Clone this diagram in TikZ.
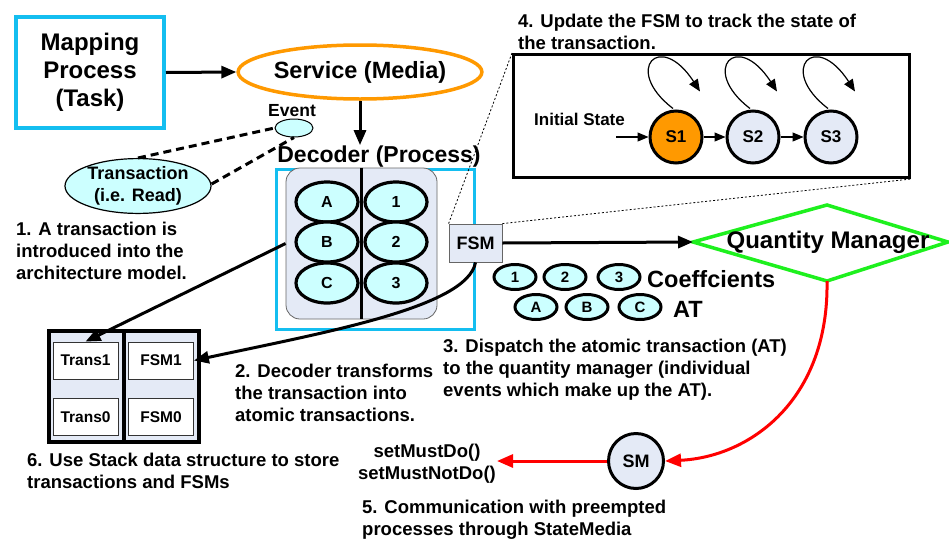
\documentclass[tikz,border=0pt]{standalone}
\usepackage{fontspec}
\setmainfont{Liberation Sans}
\usetikzlibrary{shapes.geometric,arrows.meta,calc}
\definecolor{cyanb}{RGB}{20,190,240}
\definecolor{orng}{RGB}{255,153,0}
\definecolor{lcyan}{RGB}{204,255,255}
\definecolor{lav}{RGB}{228,234,246}
\definecolor{grn}{RGB}{30,240,30}
\newcommand\fsz[2]{\fontsize{#1}{#2}\selectfont}
\newcommand\stloop[1]{\draw[loopst] ($(#1.north)+(-3,-1)$) .. controls ($(#1.north)+(-54,-40)$) and ($(#1.north)+(-16,-80)$) .. ($(#1.north)+(24,-18)$);}
\begin{document}
\begin{tikzpicture}[x=1pt,y=-1pt,
  every node/.style={font=\bfseries, inner sep=0pt},
  para/.style={font=\bfseries\fsz{18.5}{22}, align=left, anchor=north west},
  bigarrow/.style={line width=3pt, -{Triangle[length=15pt,width=12pt]}},
  celli/.style={ellipse, draw, line width=3.2pt, fill=lcyan, minimum width=62pt, minimum height=40pt, font=\bfseries\fsz{16}{16}},
  coef/.style={ellipse, draw, line width=3pt, fill=lcyan, minimum width=42pt, minimum height=25pt, font=\bfseries\fsz{15}{15}},
  state/.style={circle, draw, line width=3pt, minimum size=52pt, font=\bfseries\fsz{17}{17}},
  thinarrow/.style={line width=1.2pt, -{Triangle[length=11pt,width=9pt]}},
  loopst/.style={line width=1.2pt, -{Triangle[length=12pt,width=10pt]}},
  stackbox/.style={draw=black!80, line width=0.8pt, fill=white, minimum width=65pt, minimum height=37pt, font=\bfseries\fsz{15.5}{15.5}},
  dotl/.style={line width=0.8pt, dash pattern=on 2pt off 2pt},
  dashl/.style={line width=3pt, dash pattern=on 8pt off 5pt},
  redarrow/.style={red, line width=3pt, -{Triangle[length=16pt,width=13pt]}},
]
\useasboundingbox (0,0) rectangle (949,541);
\fill[white] (0,0) rectangle (949,541);

% Mapping process and service
\node[draw=cyanb, line width=4pt, minimum width=148pt, minimum height=111pt, align=center, font=\bfseries\fsz{24}{28}] (map) at (90,72.5) {Mapping\\Process\\(Task)};
\node[ellipse, draw=orng, line width=3.5pt, minimum width=234pt, minimum height=54pt, font=\bfseries\fsz{23.5}{23.5}] (svc) at (360,72) {Service (Media)};
\draw[bigarrow] (map.east) -- (svc.west);

% Event and transaction
\node[font=\bfseries\fsz{17.5}{17.5}] (evtl) at (292,110.5) {Event};
\node[ellipse, draw, line width=1pt, fill=lcyan, minimum width=38pt, minimum height=18pt] (evt) at (294,128) {};
\node[ellipse, draw, line width=1.2pt, fill=lcyan, minimum width=146pt, minimum height=54pt, align=center, font=\bfseries\fsz{18}{22}] (trx) at (138,186) {Transaction\\(i.e. Read)};
\draw[dashl] (trx.north) -- (evt.west);
\draw[dashl] ($(trx.east)+(0,-2)$) -- (evt.south);

% Decoder
\node[font=\bfseries\fsz{23}{23}, anchor=base] (declbl) at (379,162) {Decoder (Process)};
\draw[bigarrow] (svc.south) -- (svc.south |- declbl.north);
\node[draw=cyanb, line width=3pt, minimum width=198pt, minimum height=160pt] (dec) at (375.5,249.5) {};
\node[draw=black!60, fill=lav, rounded corners=14pt, line width=0.8pt, minimum width=151pt, minimum height=151pt] (inner) at (361.5,243.5) {};
\draw[line width=3pt] (inner.north) -- (inner.south);
\node[celli] (ca) at (327,202) {A};
\node[celli] (cb) at (327,242) {B};
\node[celli] (cc) at (327,283) {C};
\node[celli] (c1) at (396,202) {1};
\node[celli] (c2) at (396,242) {2};
\node[celli] (c3) at (396,283) {3};
\node[draw=black!60, fill=lav, line width=0.8pt, minimum width=53pt, minimum height=38pt, font=\bfseries\fsz{18}{18}] (fsm) at (475.5,243) {FSM};

% Quantity manager
\coordinate (qmw) at (693,242);
\coordinate (qmn) at (827,205);
\coordinate (qme) at (948,242);
\coordinate (qms) at (827,281);
\draw[grn, line width=3.5pt, line join=miter] (qmw) -- (qmn) -- (qme) -- (qms) -- cycle;
\node[font=\bfseries\fsz{24}{24}] (qm) at (828,242) {Quantity Manager};
\draw[bigarrow] (fsm.east) -- (qmw);

% Coefficients and AT
\node[coef] (k1) at (515,277) {1};
\node[coef] (k2) at (565,277) {2};
\node[coef] (k3) at (619,277) {3};
\node[coef] (ka) at (536,307) {A};
\node[coef] (kb) at (587,307) {B};
\node[coef] (kc) at (640,307) {C};
\node[font=\bfseries\fsz{23.5}{23.5}, anchor=base west] (coeflbl) at (647,287) {Coeffcients};
\node[font=\bfseries\fsz{23.5}{23.5}, anchor=base west] (atlbl) at (673,317) {AT};

% FSM state box
\node[draw, line width=3pt, minimum width=396pt, minimum height=123pt] (fbox) at (711.5,116) {};
\draw[dotl] (fsm.north west) -- (fbox.north west);
\draw[dotl] (fsm.north east) -- (fbox.south east);
\node[state, fill=orng] (s1) at (676,137) {S1};
\node[state, fill=lav] (s2) at (753,137) {S2};
\node[state, fill=lav] (s3) at (831,137) {S3};
\node[font=\bfseries\fsz{17}{17}] (init) at (579.5,119) {Initial State};
\coordinate (initstart) at (616,137);
\draw[thinarrow] (initstart) -- (s1.west);
\draw[thinarrow] (s1) -- (s2);
\draw[thinarrow] (s2) -- (s3);
\stloop{s1}
\stloop{s2}
\stloop{s3}
\node[para] (t4) at (518,13.5) {4. Update the FSM to track the state of\\the transaction.};

% Stack
\node[draw, fill=lav, line width=4pt, minimum width=150pt, minimum height=111pt] (stack) at (124,386.5) {};
\draw[line width=4pt] (stack.north) -- (stack.south);
\node[stackbox] (tr1) at (85.5,360.5) {Trans1};
\node[stackbox] (fs1) at (161,360.5) {FSM1};
\node[stackbox] (tr0) at (85.5,417) {Trans0};
\node[stackbox] (fs0) at (161,417) {FSM0};
\draw[bigarrow] (inner.west) -- (tr1.north);
\draw[bigarrow] (fsm.south) .. controls ($(fsm.south)+(-8,45)$) and ($(fs1.east)+(130,-28)$) .. (fs1.east);

% StateMedia
\node[state, fill=lav, minimum size=55pt, font=\bfseries\fsz{18}{18}] (sm) at (636,461) {SM};
\draw[redarrow] (qms) .. controls ($(qms)+(2,119)$) and ($(sm.east)+(85,-4)$) .. (sm.east);
\coordinate (smtip) at (497,461);
\draw[redarrow] (sm.west) -- (smtip);
\node[font=\bfseries\fsz{18.5}{22}, align=center, anchor=north] (setm) at (427,443.5) {setMustDo()\\setMustNotDo()};

% Texts
\node[para] (t1) at (16,221.5) {1. A transaction is\\introduced into the\\architecture model.};
\node[para] (t2) at (235,363.5) {2. Decoder transforms\\the transaction into\\atomic transactions.};
\node[para] (t3) at (443,338.5) {3. Dispatch the atomic transaction (AT)\\to the quantity manager (individual\\events which make up the AT).};
\node[para] (t5) at (362,499.5) {5. Communication with preempted\\processes through StateMedia};
\node[para] (t6) at (27,452.5) {6. Use Stack data structure to store\\transactions and FSMs};
\end{tikzpicture}
\end{document}
